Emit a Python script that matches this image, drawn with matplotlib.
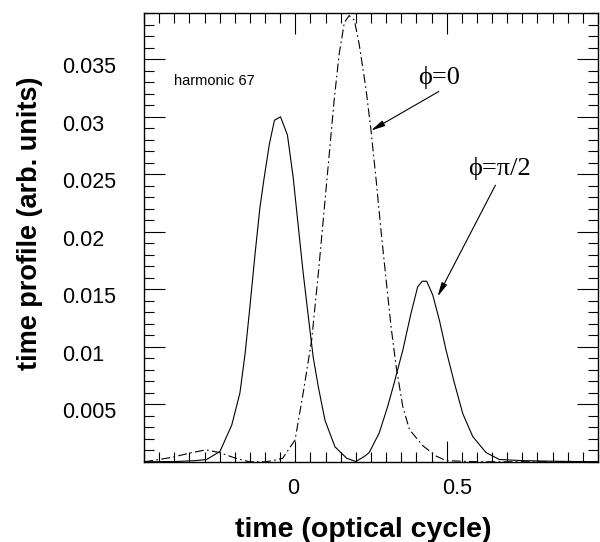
import matplotlib
matplotlib.use('Agg')
import matplotlib.pyplot as plt
from matplotlib.ticker import MultipleLocator
from matplotlib.transforms import ScaledTranslation

# solid curve (phi = pi/2)
x_solid = [-0.50, -0.40, -0.33, -0.293, -0.249, -0.210, -0.183, -0.166, -0.150, -0.133,
           -0.117, -0.103, -0.086, -0.069, -0.049, -0.026, -0.007, 0.010, 0.026, 0.043,
           0.059, 0.076, 0.098, 0.131, 0.170, 0.200, 0.230, 0.244, 0.277, 0.305,
           0.327, 0.355, 0.382, 0.404, 0.419, 0.434, 0.454, 0.476, 0.498, 0.525,
           0.553, 0.586, 0.630, 0.674, 0.75, 0.85, 1.0]
y_solid = [0.0, 0.00002, 0.0001, 0.0002, 0.0009, 0.0032, 0.0060, 0.0094, 0.0135, 0.0181,
           0.0221, 0.0247, 0.0276, 0.0297, 0.0300, 0.0284, 0.0247, 0.0204, 0.0164, 0.0126,
           0.0091, 0.0065, 0.0036, 0.0013, 0.0003, 0.00002, 0.0005, 0.0008, 0.0025, 0.0048,
           0.0069, 0.0097, 0.0129, 0.0152, 0.0157, 0.0157, 0.0145, 0.0123, 0.0097, 0.0069,
           0.0042, 0.0022, 0.0008, 0.0002, 0.0001, 0.00005, 0.0]

# dash-dot curve (phi = 0)
x_dd = [-0.499, -0.45, -0.405, -0.350, -0.295, -0.251, -0.196, -0.152, -0.10, -0.075,
        -0.042, -0.001, 0.026, 0.054, 0.076, 0.098, 0.115, 0.128, 0.145, 0.162,
        0.178, 0.195, 0.211, 0.234, 0.250, 0.267, 0.283, 0.300, 0.316, 0.333,
        0.355, 0.377, 0.421, 0.465, 0.498, 0.6, 1.0]
y_dd = [0.0, 0.0002, 0.0004, 0.00075, 0.00104, 0.0008, 0.0003, 0.0, 0.0, 0.0001,
        0.0003, 0.0019, 0.0060, 0.0106, 0.0164, 0.0227, 0.0276, 0.0314, 0.0355, 0.0382,
        0.0388, 0.0384, 0.0363, 0.0323, 0.0288, 0.0245, 0.0201, 0.0158, 0.0118, 0.0083,
        0.0048, 0.0028, 0.0014, 0.0005, 0.0001, 0.0, 0.0]

yticks = [0.005, 0.01, 0.015, 0.02, 0.025, 0.03, 0.035]
ylabels = ['0.005', '0.01', '0.015', '0.02', '0.025', '0.03', '0.035']
xticks = [0, 0.5]
xlabels = ['0', '0.5']

plt.rcParams['font.family'] = ['Liberation Sans', 'DejaVu Sans']

fig = plt.figure(figsize=(6, 5.42), dpi=100)
ax = fig.add_axes([0.24, 0.148, 0.7567, 0.8275])

ax.plot(x_solid, y_solid, color='k', lw=0.8)
ax.plot(x_dd, y_dd, color='k', lw=0.8, linestyle=(0, (8, 3, 1.5, 3)))

ax.set_xlim(-0.5, 1.0)
ax.set_ylim(0, 0.039)

ax.set_xticks(xticks)
ax.set_xticklabels(xlabels, fontsize=15.5)
ax.set_yticks(yticks)
ax.set_yticklabels(ylabels, fontsize=15.5)
ax.xaxis.set_minor_locator(MultipleLocator(0.05))
ax.yaxis.set_minor_locator(MultipleLocator(0.001))
ax.tick_params(which='both', direction='in', top=True, right=True, width=0.8)
ax.tick_params(which='major', length=15)
ax.tick_params(which='minor', length=7.5)
ax.tick_params(axis='x', which='major', pad=11.5)
ax.tick_params(axis='y', which='major', pad=59)
for lab in ax.get_yticklabels():
    lab.set_horizontalalignment('left')
    lab.set_transform(lab.get_transform() + ScaledTranslation(0, -0.06, fig.dpi_scale_trans))
xoff = [-0.02, 0.10]
for lab, dx in zip(ax.get_xticklabels(), xoff):
    lab.set_transform(lab.get_transform() + ScaledTranslation(dx, 0, fig.dpi_scale_trans))
for sp in ax.spines.values():
    sp.set_linewidth(1.0)

ax.set_xlabel('time (optical cycle)', fontsize=20.5, fontweight='bold', va='center')
ax.xaxis.set_label_coords(0.482, -0.151)
ax.set_ylabel('time profile (arb. units)', fontsize=19.5, fontweight='bold', va='center')
ax.yaxis.set_label_coords(-0.251, 0.532)

ax.text(-0.40, 0.0331, 'harmonic 67', fontsize=10.5, va='center', ha='left')

serif = ['Liberation Serif', 'DejaVu Serif']
ax.text(0.476, 0.03345, '\u03d5=0', fontsize=19, family=serif, ha='center', va='center')
ax.text(0.674, 0.0255, '\u03d5=\u03c0/2', fontsize=19, family=serif, ha='center', va='center')
arrow = dict(arrowstyle='-|>,head_length=0.7,head_width=0.15', color='k', lw=0.8,
             shrinkA=0, shrinkB=0, mutation_scale=12)
ax.annotate('', xy=(0.250, 0.0288), xytext=(0.474, 0.0322), arrowprops=arrow)
ax.annotate('', xy=(0.470, 0.01437), xytext=(0.661, 0.02405), arrowprops=arrow)

fig.savefig('out.png', dpi=100)
